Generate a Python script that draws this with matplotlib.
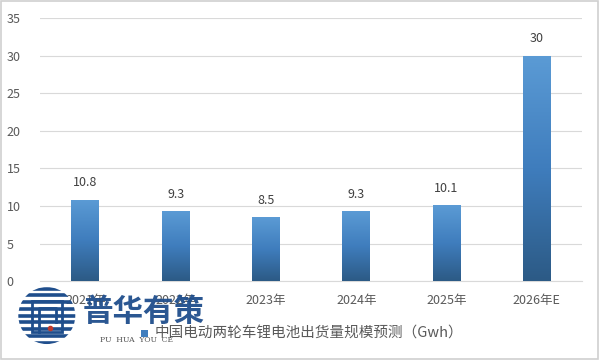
import numpy as np
import matplotlib.pyplot as plt
from matplotlib.patches import Rectangle, Circle
from matplotlib.colors import LinearSegmentedColormap

plt.rcParams['font.family'] = ['Noto Sans CJK SC', 'DejaVu Sans']

# 数据
years = ["2021年", "2022年", "2023年", "2024年", "2025年", "2026年E"]
values = [10.8, 9.3, 8.5, 9.3, 10.1, 30]
value_labels = ["10.8", "9.3", "8.5", "9.3", "10.1", "30"]
y_ticks = [0, 5, 10, 15, 20, 25, 30, 35]
legend_text = "中国电动两轮车锂电池出货量规模预测（Gwh）"

fig = plt.figure(figsize=(6, 3.6), dpi=100)
ax = fig.add_axes([0.067, 0.219, 0.903, 0.731])

x = np.arange(len(years))
bar_w = 0.31
bars = ax.bar(x, values, width=bar_w, color="#4a86c5", zorder=2)

# gradient fill for each bar
cmap = LinearSegmentedColormap.from_list("g", ["#2c5a85", "#3f7dbd", "#5b9bd5"])
grad = np.linspace(0, 1, 256).reshape(-1, 1)
for b in bars:
    x0, w, h = b.get_x(), b.get_width(), b.get_height()
    im = ax.imshow(grad, extent=[x0, x0 + w, 0, h], origin="lower",
                   cmap=cmap, aspect="auto", zorder=3)
    im.set_clip_path(b)

for xi, v, lab in zip(x, values, value_labels):
    ax.text(xi, v + 1.4, lab, ha="center", va="bottom", fontsize=9, color="#404040")

ax.set_xlim(-0.5, len(years) - 0.5)
ax.set_ylim(0, 35)
ax.set_yticks(y_ticks)
ax.set_xticks(x)
ax.set_xticklabels(years)
ax.tick_params(axis="both", length=0, labelsize=9, colors="#595959")
ax.tick_params(axis="y", pad=24)
ax.tick_params(axis="x", pad=9)
for lab in ax.get_yticklabels():
    lab.set_horizontalalignment("left")
ax.grid(axis="y", color="#d9d9d9", linewidth=0.8, zorder=0)
for s in ["top", "right", "left"]:
    ax.spines[s].set_visible(False)
ax.spines["bottom"].set_color("#d9d9d9")

# legend
fig.patches.append(Rectangle((0.235, 0.063), 0.012, 0.02, transform=fig.transFigure,
                             facecolor="#3f7dbd", edgecolor="none"))
fig.text(0.257, 0.073, legend_text, fontsize=10.5, color="#595959", va="center")

# watermark logo
lax = fig.add_axes([0.028, 0.04, 0.1, 0.167])
lax.set_xlim(-1, 1)
lax.set_ylim(-1, 1)
lax.set_aspect("equal")
lax.axis("off")
clip = Circle((0, 0), 0.95, transform=lax.transData)
for yy in np.linspace(-0.9, 0.9, 9):
    ln, = lax.plot([-1, 1], [yy, yy], color="#1f4e8c", lw=2.6)
    ln.set_clip_path(clip)
lax.add_patch(Rectangle((-0.5, -0.55), 1.0, 1.05, facecolor="white", edgecolor="#1f4e8c", lw=2))
lax.plot([-0.25, -0.25, 0.3, 0.3], [-0.55, 0.25, 0.25, -0.2], color="#1f4e8c", lw=2)
lax.plot([0.1], [-0.4], "o", color="#c0392b", ms=3)

fig.text(0.138, 0.133, "普华有策", fontsize=22, fontweight="bold", color="#1f4e8c",
         va="center", alpha=0.95)
fig.text(0.167, 0.055, "PU  HUA  YOU  CE", fontsize=5.5, color="#555555",
         family="DejaVu Serif", va="center")

# frame
fig.patches.append(Rectangle((0.002, 0.003), 0.995, 0.993, transform=fig.transFigure,
                             fill=False, edgecolor="#d0d0d0", linewidth=1.2))

fig.savefig("out.png", dpi=100)
